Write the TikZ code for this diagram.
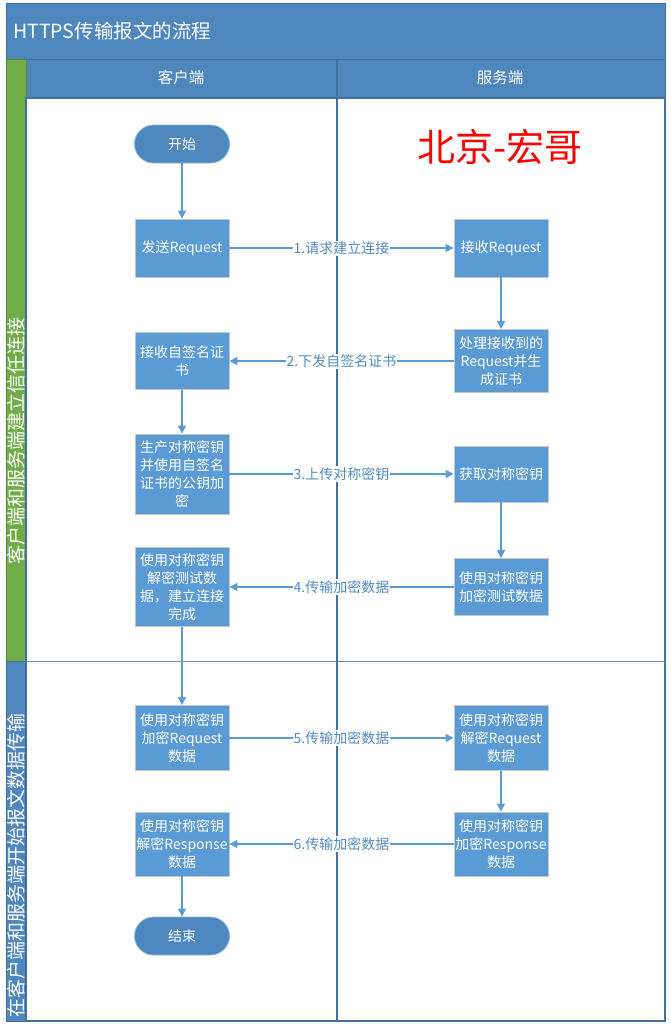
\documentclass[tikz,border=0pt]{standalone}
\usepackage{fontspec}
\setmainfont{Noto Sans CJK SC}
\usetikzlibrary{arrows.meta}
\definecolor{barblue}{HTML}{4E86BE}
\definecolor{boxblue}{HTML}{5B9BD5}
\definecolor{rimblue}{HTML}{41719C}
\definecolor{bandgreen}{HTML}{70AD47}
\tikzset{
	stepbox/.style={rectangle, fill=boxblue, draw=black!22, line width=0.8pt, text=white,
		minimum width=94pt, inner sep=0pt, align=center, font=\fontsize{14}{18}\selectfont},
	endbox/.style={rectangle, rounded corners=19pt, fill=barblue, draw=boxblue!70!white, line width=0.8pt,
		text=white, minimum width=95pt, minimum height=38pt, font=\fontsize{14}{18}\selectfont},
	flow/.style={draw=boxblue, line width=1.1pt, -{Triangle[width=8pt,length=8pt]}},
	msg/.style={fill=white, text=boxblue!90!black, inner sep=1pt, font=\fontsize{14}{18}\selectfont},
	bandtext/.style={rotate=90, text=white, inner sep=0pt, font=\fontsize{19}{19}\selectfont}
}

\begin{document}
\begin{tikzpicture}[x=1pt, y=-1pt]
		%%%%% START %%%%%
		\useasboundingbox (0, 0) rectangle (671, 1029);
		
		% title and lane header
		\draw[fill=barblue, draw=rimblue, line width=1pt] (6, 3) rectangle (665, 59);
		\node[anchor=west, text=white, inner sep=0pt, font=\fontsize{19.5}{20}\selectfont] (title) at (13, 31) {HTTPS传输报文的流程};
		\draw[fill=barblue, draw=rimblue, line width=1pt] (26, 59) rectangle (665, 98);
		\node[text=white, font=\fontsize{15.5}{16}\selectfont] (client) at (181, 78) {客户端};
		\node[text=white, font=\fontsize{15.5}{16}\selectfont] (server) at (500, 78) {服务端};
		
		% phase bands
		\draw[fill=bandgreen, draw=bandgreen!80!black, line width=0.8pt] (6, 59) rectangle (26, 661);
		\draw[fill=barblue, draw=rimblue, line width=0.8pt] (6, 661) rectangle (26, 1021);
		\node[bandtext] (phaseA) at (16.5, 441) {客户端和服务端建立信任连接};
		\node[bandtext] (phaseB) at (16.5, 865) {在客户端和服务端开始报文数据传输};
		
		% lanes
		\draw[draw=rimblue, line width=1.2pt] (26, 98) rectangle (665, 1021);
		\draw[draw=rimblue!80, line width=1pt] (26, 661) -- (665, 661);
		\draw[draw=rimblue, line width=1.2pt] (337, 59) -- (337, 1021);
		
		\node[text=red, inner sep=0pt, font=\fontsize{38}{38}\selectfont] (mark) at (500, 147) {北京-宏哥};
		
		% client side
		\node[endbox] (start) at (182, 144) {开始};
		\node[stepbox, minimum height=58pt] (send) at (182, 248) {发送Request};
		\node[stepbox, minimum height=57pt] (getcert) at (182, 361) {接收自签名证\\书};
		\node[stepbox, minimum height=80pt] (genkey) at (182, 474) {生产对称密钥\\并使用自签名\\证书的公钥加\\密};
		\node[stepbox, minimum height=79pt] (dectest) at (182, 587) {使用对称密钥\\解密测试数\\据，建立连接\\完成};
		\node[stepbox, minimum height=65pt] (encreq) at (182, 738) {使用对称密钥\\加密Request\\数据};
		\node[stepbox, minimum height=64pt] (decresp) at (182, 844) {使用对称密钥\\解密Response\\数据};
		\node[endbox] (finish) at (182, 936) {结束};
		
		% server side
		\node[stepbox, minimum height=58pt] (recv) at (501, 248) {接收Request};
		\node[stepbox, minimum height=63pt] (mkcert) at (501, 361) {处理接收到的\\Request并生\\成证书};
		\node[stepbox, minimum height=56pt] (getkey) at (501, 474) {获取对称密钥};
		\node[stepbox, minimum height=57pt] (enctest) at (501, 587) {使用对称密钥\\加密测试数据};
		\node[stepbox, minimum height=65pt] (decreq) at (501, 738) {使用对称密钥\\解密Request\\数据};
		\node[stepbox, minimum height=64pt] (encresp) at (501, 844) {使用对称密钥\\加密Response\\数据};
		
		% flow inside a lane
		\draw[flow] (start) -- (send);
		\draw[flow] (getcert) -- (genkey);
		\draw[flow] (dectest) -- (encreq);
		\draw[flow] (decresp) -- (finish);
		\draw[flow] (recv) -- (mkcert);
		\draw[flow] (getkey) -- (enctest);
		\draw[flow] (decreq) -- (encresp);
		
		% messages between lanes
		\draw[flow] (send) -- node[msg] (m1) {1.请求建立连接} (recv);
		\draw[flow] (mkcert) -- node[msg] (m2) {2.下发自签名证书} (getcert);
		\draw[flow] (genkey) -- node[msg] (m3) {3.上传对称密钥} (getkey);
		\draw[flow] (enctest) -- node[msg] (m4) {4.传输加密数据} (dectest);
		\draw[flow] (encreq) -- node[msg] (m5) {5.传输加密数据} (decreq);
		\draw[flow] (encresp) -- node[msg] (m6) {6.传输加密数据} (decresp);
		
		%%%%% END %%%%%
	\end{tikzpicture}
\end{document}
